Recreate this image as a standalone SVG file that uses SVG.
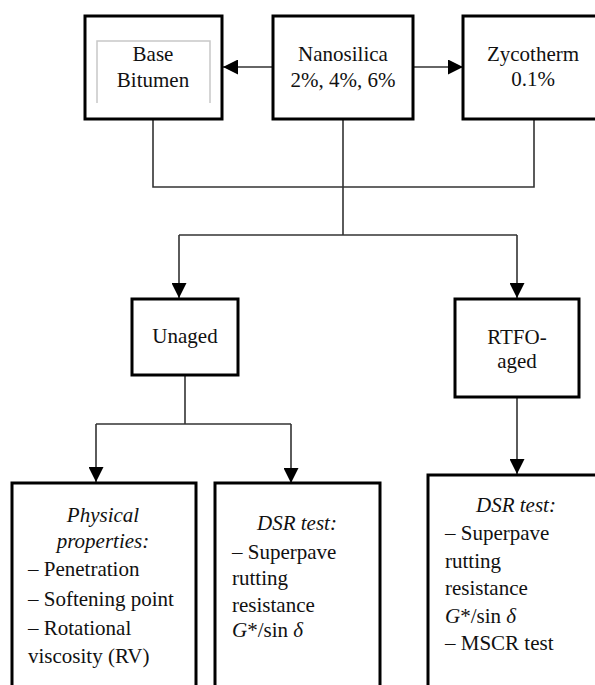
<svg xmlns="http://www.w3.org/2000/svg" width="595" height="685" viewBox="0 0 595 685">
<defs>
<marker id="ah" viewBox="0 0 10 10" refX="10" refY="5" markerWidth="15" markerHeight="15" markerUnits="userSpaceOnUse" orient="auto">
<path d="M0,0 L10,5 L0,10 z" fill="#000"/>
</marker>
</defs>
<rect width="595" height="685" fill="#fff"/>
<g id="connectors" fill="none" stroke="#333" stroke-width="1.6">
<line x1="273" y1="67" x2="223" y2="67" marker-end="url(#ah)"/>
<line x1="413" y1="67" x2="463" y2="67" marker-end="url(#ah)"/>
<polyline points="153,120 153,187 534,187 534,120"/>
<line x1="343" y1="120" x2="343" y2="235"/>
<line x1="179" y1="235" x2="517" y2="235"/>
<line x1="179" y1="235" x2="179" y2="298" marker-end="url(#ah)"/>
<line x1="517" y1="235" x2="517" y2="298" marker-end="url(#ah)"/>
<line x1="185" y1="375" x2="185" y2="424"/>
<line x1="96" y1="424" x2="291" y2="424"/>
<line x1="96" y1="424" x2="96" y2="482" marker-end="url(#ah)"/>
<line x1="291" y1="424" x2="291" y2="483" marker-end="url(#ah)"/>
<line x1="517" y1="398" x2="517" y2="474" marker-end="url(#ah)"/>
</g>
<g id="base-bitumen">
<rect x="85" y="16" width="137" height="103" fill="#fff" stroke="#000" stroke-width="3"/>
<polyline points="97,103 97,41 210,41 210,103" fill="none" stroke="#c8c8c8" stroke-width="1.5"/>
<text x="153" y="61" font-family="Times New Roman" font-size="21" text-anchor="middle" fill="#111">Base</text>
<text x="153" y="87" font-family="Times New Roman" font-size="21" text-anchor="middle" fill="#111">Bitumen</text>
</g>
<g id="nanosilica">
<rect x="273" y="16" width="140" height="103" fill="#fff" stroke="#000" stroke-width="3"/>
<text x="343" y="61" font-family="Times New Roman" font-size="21" text-anchor="middle" fill="#111">Nanosilica</text>
<text x="343" y="87" font-family="Times New Roman" font-size="21" text-anchor="middle" fill="#111">2%, 4%, 6%</text>
</g>
<g id="zycotherm">
<rect x="463" y="16" width="140" height="103" fill="#fff" stroke="#000" stroke-width="3"/>
<text x="533" y="61" font-family="Times New Roman" font-size="21" text-anchor="middle" fill="#111">Zycotherm</text>
<text x="533" y="86" font-family="Times New Roman" font-size="21" text-anchor="middle" fill="#111">0.1%</text>
</g>
<g id="unaged">
<rect x="132" y="299" width="106" height="76" fill="#fff" stroke="#000" stroke-width="3"/>
<text x="185" y="343" font-family="Times New Roman" font-size="21" text-anchor="middle" fill="#111">Unaged</text>
</g>
<g id="rtfo-aged">
<rect x="455" y="299" width="124" height="98" fill="#fff" stroke="#000" stroke-width="3"/>
<text x="517" y="344" font-family="Times New Roman" font-size="21" text-anchor="middle" fill="#111">RTFO-</text>
<text x="517" y="368" font-family="Times New Roman" font-size="21" text-anchor="middle" fill="#111">aged</text>
</g>
<g id="physical">
<rect x="12" y="483" width="184" height="220" fill="#fff" stroke="#000" stroke-width="3"/>
<text x="103" y="522" font-family="Times New Roman" font-size="21" font-style="italic" text-anchor="middle" fill="#111">Physical</text>
<text x="103" y="548" font-family="Times New Roman" font-size="21" font-style="italic" text-anchor="middle" fill="#111">properties:</text>
<text x="28" y="576" font-family="Times New Roman" font-size="21" fill="#111">&#8211; Penetration</text>
<text x="28" y="606" font-family="Times New Roman" font-size="21" fill="#111">&#8211; Softening point</text>
<text x="28" y="635" font-family="Times New Roman" font-size="21" fill="#111">&#8211; Rotational</text>
<text x="28" y="663" font-family="Times New Roman" font-size="21" fill="#111">viscosity (RV)</text>
</g>
<g id="dsr-unaged">
<rect x="215" y="483" width="165" height="220" fill="#fff" stroke="#000" stroke-width="3"/>
<text x="297" y="530" font-family="Times New Roman" font-size="21" font-style="italic" text-anchor="middle" fill="#111">DSR test:</text>
<text x="232" y="559" font-family="Times New Roman" font-size="21" fill="#111">&#8211; Superpave</text>
<text x="232" y="585" font-family="Times New Roman" font-size="21" fill="#111">rutting</text>
<text x="232" y="612" font-family="Times New Roman" font-size="21" fill="#111">resistance</text>
<text x="232" y="637" font-family="Times New Roman" font-size="21" fill="#111"><tspan font-style="italic">G</tspan>*/sin <tspan font-style="italic">&#948;</tspan></text>
</g>
<g id="dsr-rtfo">
<rect x="428" y="475" width="175" height="230" fill="#fff" stroke="#000" stroke-width="3"/>
<text x="516" y="512" font-family="Times New Roman" font-size="21" font-style="italic" text-anchor="middle" fill="#111">DSR test:</text>
<text x="445" y="540" font-family="Times New Roman" font-size="21" fill="#111">&#8211; Superpave</text>
<text x="445" y="568" font-family="Times New Roman" font-size="21" fill="#111">rutting</text>
<text x="445" y="595" font-family="Times New Roman" font-size="21" fill="#111">resistance</text>
<text x="445" y="623" font-family="Times New Roman" font-size="21" fill="#111"><tspan font-style="italic">G</tspan>*/sin <tspan font-style="italic">&#948;</tspan></text>
<text x="445" y="650" font-family="Times New Roman" font-size="21" fill="#111">&#8211; MSCR test</text>
</g>
</svg>
